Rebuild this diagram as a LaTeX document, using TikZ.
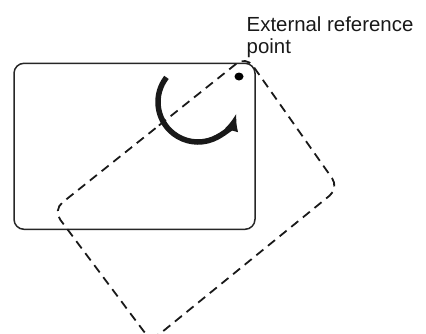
\documentclass[tikz,border=0pt]{standalone}
\usepackage{fontspec}
\setmainfont{Liberation Sans}
\usetikzlibrary{arrows.meta,calc,shapes.geometric}
\tikzset{
  card/.style={draw=black!85, line width=1.5pt, rounded corners=10pt},
  moved/.style={draw=black!90, line width=1.8pt, dash pattern=on 9pt off 6pt, rounded corners=12pt},
  turn/.style={draw=black!90, line width=5.5pt, -{Latex[length=18pt,width=14pt]}},
  refdot/.style={ellipse, fill=black, inner sep=0pt, minimum width=9pt, minimum height=8pt},
  lbl/.style={font=\fontsize{20.4}{21.6}\selectfont, align=left, inner sep=0pt, text=black!90}
}
\begin{document}
\begin{tikzpicture}[x=1pt,y=-1pt]
\useasboundingbox (0,0) rectangle (426,333);
\clip (0,0) rectangle (426,333);
% original card
\draw[card] (14,63.3) rectangle (255,229.3);
% moved (rotated) card
\coordinate (tc) at (246,56);
\coordinate (rc) at (339,188);
\coordinate (bc) at (151,341);
\coordinate (lc) at (53,210);
\draw[moved] ($(lc)!0.5!(tc)$) -- (tc) -- (rc) -- (bc) -- (lc) -- cycle;
% reference point
\node[refdot] (ref) at (239,76.5) {};
% rotation arrow
\coordinate (rotc) at (198,102);
\draw[turn] (rotc) ++(218:40) arc[start angle=218, end angle=16, radius=40];
% label
\node[lbl, anchor=base west] (label) at (246.5,53.3) {External reference\\point};
\end{tikzpicture}
\end{document}
